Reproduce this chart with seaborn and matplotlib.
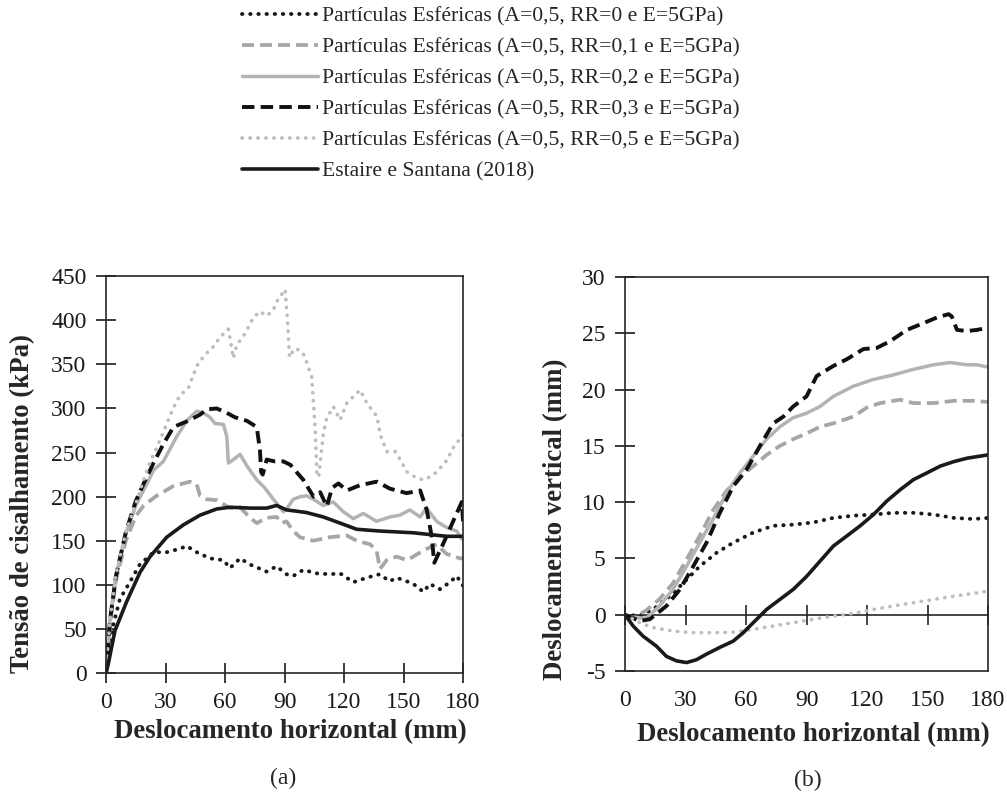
import numpy as np
import pandas as pd
import seaborn as sns
import matplotlib
matplotlib.use('Agg')
import matplotlib.pyplot as plt

# ---- (a) tensao de cisalhamento (kPa) x deslocamento horizontal (mm)
a_rr0_x = [0, 1.2, 3.7, 7, 12, 17, 24, 30.6, 37.3, 40.7, 45.7, 52.4, 59.2, 62.5, 67.6, 72.6, 81, 86, 91, 94.4,
           99.5, 106, 113, 118, 124.7, 131.4, 138, 143, 146.5, 151.6, 155, 160, 163.3, 168.4, 173.4, 176.8, 180]
a_rr0_y = [0, 19, 55, 84, 103, 123, 137, 137, 141, 144, 137, 130, 128, 119, 130, 123, 115, 121, 112, 110,
           117, 113, 112, 113, 103, 108, 112, 104, 108, 104, 101, 92, 101, 95, 103, 110, 99]

a_rr1_x = [0, 2, 5, 10, 15, 19, 25.5, 34, 42.4, 45.7, 47.4, 50.8, 55.8, 62.5, 67.6, 72.6, 76, 81, 86, 88.6,
           91, 94.4, 97.8, 104.5, 112.9, 121.3, 126.4, 133.1, 136.4, 138.1, 141.5, 146.5, 151.6, 154.9, 160,
           166.7, 171.7, 178.5, 180]
a_rr1_y = [0, 55, 105, 150, 178, 190, 201, 212, 217, 214, 201, 197, 196, 187, 188, 176, 170, 176, 177, 170,
           172, 161, 154, 150, 154, 156, 150, 146, 139, 118, 128, 132, 128, 132, 139, 146, 135, 130, 130]

a_rr2_x = [0, 2, 5, 10, 15, 20, 24, 28.9, 35.6, 40.7, 45.7, 49, 52.4, 55, 59.2, 60.9, 61.7, 64.2, 67.6, 71,
           76, 80, 84.4, 89.4, 91, 94.4, 98, 101.1, 104.5, 109.5, 114.6, 119.6, 124.7, 129.7, 136.4, 143.2,
           148.2, 153.2, 158.3, 161.6, 166.7, 171.7, 176.8, 179.3, 180]
a_rr2_y = [0, 60, 110, 158, 190, 212, 230, 240, 268, 286, 297, 295, 290, 283, 282, 268, 238, 242, 248, 235,
           219, 210, 197, 183, 186, 197, 200, 201, 197, 190, 194, 183, 175, 181, 172, 177,
           179, 185, 177, 187, 172, 165, 161, 152, 155]

a_rr3_x = [0, 2, 5, 10, 15, 19, 23.9, 29, 34, 41.5, 47.4, 50.8, 55.8, 60.9, 65, 71, 76, 77.6, 78.2, 79, 81,
           85, 89.4, 93, 96, 99.5, 104.6, 108, 111.3, 114, 117.2, 121.4, 128.1, 136.5, 143.2, 151.6, 158.4,
           161.7, 164.2, 165.5, 170.1, 175.2, 179.4, 180]
a_rr3_y = [0, 60, 110, 160, 195, 215, 238, 260, 279, 286, 293, 299, 300, 295, 290, 286, 279, 253, 228, 225, 242,
           240, 240, 236, 228, 219, 200, 205, 189, 210, 215, 207, 213, 217, 209, 204, 207,
           185, 155, 125, 147, 173, 194, 172]

a_rr5_x = [0, 2, 5, 10, 15, 20, 22.2, 27.2, 34, 37.3, 41.5, 45.7, 49.9, 54.1, 57.5, 61.7, 64.2, 65.9, 70.1,
           74.3, 77.6, 81, 84.4, 86, 90.3, 91.5, 92.5, 95, 97.9, 100, 103.7, 105.4, 106.3, 107.2, 109.6, 111.3,
           114.6, 118, 121.4, 128.1, 131.5, 136.6, 138.3, 141.7, 145.9, 149.3, 151.8, 156, 160, 163, 166.8,
           171.8, 175.2, 179.4, 180]
a_rr5_y = [0, 60, 112, 160, 192, 226, 239, 264, 301, 315, 323, 348, 361, 370, 381, 390, 357, 372, 385,
           403, 410, 405, 412, 421, 435, 400, 358, 368, 366, 360, 336, 279, 227, 222, 272, 289,
           302, 287, 306, 321, 306, 291, 270, 251, 251, 238, 228, 222, 219, 222, 228,
           241, 256, 268, 270]

a_est_x = [0, 1.2, 4.5, 10.4, 17.1, 22.2, 30.6, 39, 47.4, 55.8, 62.5, 72.6, 81, 86, 91, 101, 109.5, 118,
           126.4, 138, 155, 163.3, 171.7, 180]
a_est_y = [0, 11, 48, 81, 114, 132, 154, 168, 179, 186, 188, 187, 187, 190, 185, 182, 177, 170,
           163, 161, 159, 157, 155, 155]

# ---- (b) deslocamento vertical (mm) x deslocamento horizontal (mm)
b_rr0_x = [0, 7.3, 13.9, 22.2, 28.8, 37, 45.4, 53.6, 63.6, 73.5, 83.4, 93.4, 103.3, 113.2, 123.2, 133, 143,
           153, 163, 172.8, 180]
b_rr0_y = [0, -0.1, 0.47, 1.65, 2.8, 4.3, 5.5, 6.4, 7.3, 7.9, 8.0, 8.2, 8.6, 8.8, 8.9, 9.05, 9.05,
           8.9, 8.6, 8.5, 8.6]

b_rr1_x = [0, 4, 10.6, 17.2, 23.8, 30.5, 37, 43.7, 50.3, 57, 63.6, 70.2, 76.8, 83.4, 90, 96.7, 103.3, 113.2,
           119.9, 126.5, 136.4, 143, 153, 163, 172.8, 180]
b_rr1_y = [0, -0.3, 0.4, 1.4, 2.8, 4.9, 7, 9.3, 11, 12.2, 13.2, 14.2, 15, 15.6, 16.1, 16.7, 17, 17.6,
           18.4, 18.8, 19.1, 18.8, 18.8, 19, 19, 18.9]

b_rr2_x = [0, 4, 10.6, 17.2, 23.8, 30.5, 37, 43.7, 50.3, 57, 63.6, 70.2, 76.8, 83.4, 90, 96.7, 103.3, 113.2,
           123.2, 133, 143, 153, 161.2, 169.5, 174.5, 180]
b_rr2_y = [0, -0.27, -0.3, 0.8, 2.25, 4.3, 6.4, 8.5, 10.8, 12.6, 14.1, 15.6, 16.7, 17.5, 17.9, 18.5, 19.4,
           20.3, 20.9, 21.3, 21.8, 22.2, 22.4, 22.2, 22.2, 22]

b_rr3_x = [0, 7.3, 12.3, 20.5, 27.2, 33.8, 40.4, 47, 53.6, 60.3, 66.9, 73.5, 78.5, 83.4, 90, 95, 103.3, 110,
           118.2, 124.8, 131.5, 139.7, 148, 154.6, 160.4, 162, 164.6, 169.5, 174.5, 180]
b_rr3_y = [0, -0.56, -0.4, 0.77, 2.25, 4.3, 6.4, 9.05, 11.4, 12.9, 15, 17, 17.6, 18.5, 19.4, 21.2, 22.1, 22.7,
           23.6, 23.7, 24.3, 25.3, 25.9, 26.4, 26.7, 26.5, 25.3, 25.2, 25.3, 25.5]

b_rr5_x = [0, 7.3, 13.9, 23.8, 33.8, 43.7, 53.6, 63.6, 73.5, 83.4, 93.4, 103.3, 113.2, 123.2, 133, 143, 153,
           163, 172.8, 180]
b_rr5_y = [0, -0.7, -1.15, -1.45, -1.6, -1.6, -1.55, -1.3, -1, -0.7, -0.4, -0.12, 0.12, 0.47, 0.77, 1.07,
           1.36, 1.65, 1.9, 2.1]

b_est_x = [0, 4, 8.9, 15.6, 20.5, 25.5, 30.5, 35.4, 40.4, 47, 53.6, 58.6, 63.6, 70.2, 76.8, 83.4, 90, 96.7,
           103.3, 110, 116.6, 123.2, 129.8, 136.4, 143, 149.7, 156.3, 163, 169.5, 180]
b_est_y = [0, -1, -1.9, -2.8, -3.7, -4.1, -4.25, -4, -3.5, -2.9, -2.35, -1.6, -0.7, 0.47, 1.36, 2.25, 3.4,
           4.76, 6.1, 7, 7.9, 8.9, 10.1, 11.1, 12, 12.6, 13.2, 13.6, 13.9, 14.2]

labels = ['Partículas Esféricas (A=0,5, RR=0 e E=5GPa)',
          'Partículas Esféricas (A=0,5, RR=0,1 e E=5GPa)',
          'Partículas Esféricas (A=0,5, RR=0,2 e E=5GPa)',
          'Partículas Esféricas (A=0,5, RR=0,3 e E=5GPa)',
          'Partículas Esféricas (A=0,5, RR=0,5 e E=5GPa)',
          'Estaire e Santana (2018)']

x_ticks = [0, 30, 60, 90, 120, 150, 180]
a_yticks = [0, 50, 100, 150, 200, 250, 300, 350, 400, 450]
b_yticks = [-5, 0, 5, 10, 15, 20, 25, 30]

styles = [
    dict(color='#1a1a1a', lw=2.8, ls=(0, (0.1, 2.0)), dash_capstyle='round'),
    dict(color='#a6a6a6', lw=2.7, ls=(0, (3.2, 1.6))),
    dict(color='#b3b3b3', lw=2.5, ls='-'),
    dict(color='#111111', lw=2.8, ls=(0, (3.2, 1.6))),
    dict(color='#bdbdbd', lw=2.6, ls=(0, (0.1, 2.1)), dash_capstyle='round'),
    dict(color='#1a1a1a', lw=2.6, ls='-'),
]

sns.set_style('ticks')
plt.rcParams['font.family'] = ['Liberation Serif', 'DejaVu Serif']
plt.rcParams['axes.linewidth'] = 1.2
plt.rcParams['axes.unicode_minus'] = False

fig = plt.figure(figsize=(10.07, 8.0), dpi=100)
ax_a = fig.add_axes([0.1053, 0.15875, 0.3545, 0.496])
ax_b = fig.add_axes([0.6207, 0.16125, 0.3605, 0.4925])

series_a = [(a_rr0_x, a_rr0_y), (a_rr1_x, a_rr1_y), (a_rr2_x, a_rr2_y),
            (a_rr3_x, a_rr3_y), (a_rr5_x, a_rr5_y), (a_est_x, a_est_y)]
series_b = [(b_rr0_x, b_rr0_y), (b_rr1_x, b_rr1_y), (b_rr2_x, b_rr2_y),
            (b_rr3_x, b_rr3_y), (b_rr5_x, b_rr5_y), (b_est_x, b_est_y)]

for ax, series in [(ax_a, series_a), (ax_b, series_b)]:
    for (xs, ys), lab, st in zip(series, labels, styles):
        df = pd.DataFrame({'x': xs, 'y': ys})
        sns.lineplot(data=df, x='x', y='y', ax=ax, estimator=None, sort=False,
                     label=lab, legend=False, color=st['color'], linewidth=st['lw'],
                     linestyle=st['ls'], dash_capstyle=st.get('dash_capstyle', 'butt'))

# panel (a)
ax_a.set_xlim(0, 180)
ax_a.set_ylim(0, 450)
ax_a.set_xticks(x_ticks)
ax_a.set_yticks(a_yticks)
ax_a.tick_params(direction='inout', length=14, width=1.2, labelsize=17, pad=7, colors='#1a1a1a')
ax_a.set_xlabel('Deslocamento horizontal (mm)', fontsize=19.3, fontweight='bold')
ax_a.set_ylabel('Tensão de cisalhamento (kPa)', fontsize=19.3, fontweight='bold')
ax_a.xaxis.set_label_coords(0.515, -0.115)
ax_a.yaxis.set_label_coords(-0.2, 0.428)

# panel (b)
ax_b.set_xlim(0, 180)
ax_b.set_ylim(-5, 30)
ax_b.set_xticks(x_ticks)
ax_b.set_yticks(b_yticks)
ax_b.tick_params(axis='y', direction='inout', length=14, width=1.2, labelsize=17, pad=7, colors='#1a1a1a')
ax_b.tick_params(axis='x', length=0, labelsize=17, pad=14, colors='#1a1a1a')
zero_axis = ax_b.secondary_xaxis(5 / 35)
zero_axis.set_xticks(x_ticks)
zero_axis.tick_params(direction='inout', length=14, width=1.2, labelbottom=False)
zero_axis.spines['bottom'].set_linewidth(1.2)
zero_axis.spines['bottom'].set_color('#262626')
ax_b.set_xlabel('Deslocamento horizontal (mm)', fontsize=19.3, fontweight='bold')
ax_b.set_ylabel('Deslocamento vertical (mm)', fontsize=19.3, fontweight='bold')
ax_b.xaxis.set_label_coords(0.518, -0.129)
ax_b.yaxis.set_label_coords(-0.157, 0.386)

for ax in (ax_a, ax_b):
    for s in ax.spines.values():
        s.set_visible(True)
        s.set_color('#262626')

fig.text(283 / 1007, 1 - 778 / 800, '(a)', fontsize=17, ha='center', va='center')
fig.text(808 / 1007, 1 - 780 / 800, '(b)', fontsize=17, ha='center', va='center')

fig.legend(handles=ax_a.get_lines()[:6], labels=labels, loc='upper left',
           bbox_to_anchor=(242 / 1007, 1 - 6 / 800), frameon=False, fontsize=15.6,
           handlelength=3.5, handletextpad=0.2, labelspacing=0.5, borderpad=0, borderaxespad=0)

fig.savefig('out.png', dpi=100)
